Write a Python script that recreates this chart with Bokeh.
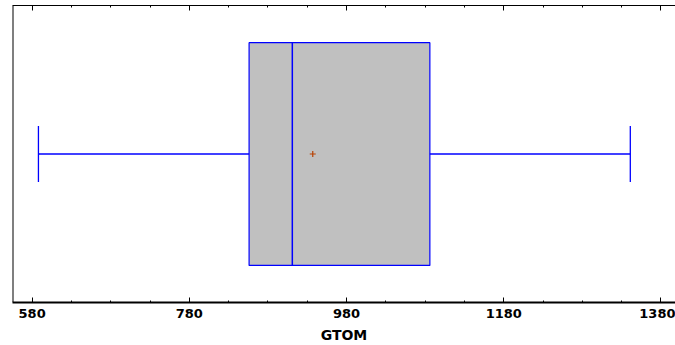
from bokeh.plotting import figure
from bokeh.models import LinearAxis, FixedTicker, Span, Range1d, CustomJSTickFormatter
from bokeh.embed import file_html
from bokeh.resources import INLINE

# Five-number summary and mean of GTOM
whisker_low = [588]
q1 = [856]
median = [911]
q3 = [1086]
whisker_high = [1341]
mean = [937]

# Axis ticks
major_ticks = [580, 780, 980, 1180, 1380]
minor_ticks = list(range(580, 1400, 50))

x_start, x_end = 555, 1398.5

p = figure(width=675, height=345, x_range=Range1d(x_start, x_end), y_range=Range1d(0, 1),
           output_backend="svg", toolbar_location=None,
           min_border_left=12, min_border_right=0, min_border_top=5, min_border_bottom=0,
           x_axis_location="below", y_axis_location=None)
p.outline_line_color = None
p.background_fill_color = "white"
p.border_fill_color = "white"
p.xgrid.visible = False
p.ygrid.visible = False

ticker = FixedTicker(ticks=major_ticks, minor_ticks=minor_ticks)

# bottom axis
xa = p.xaxis[0]
xa.ticker = ticker
xa.axis_label = "GTOM"
xa.axis_line_color = "black"
xa.axis_line_width = 2
xa.major_tick_in = 5
xa.major_tick_out = 0
xa.minor_tick_in = 2
xa.minor_tick_out = 0
xa.major_tick_line_color = "black"
xa.minor_tick_line_color = "black"
xa.major_label_text_font = "DejaVu Sans"
xa.major_label_text_font_style = "bold"
xa.major_label_text_font_size = "13px"
xa.major_label_text_color = "black"
xa.major_label_standoff = 6
xa.axis_label_text_font = "DejaVu Sans"
xa.axis_label_text_font_style = "bold"
xa.axis_label_text_font_size = "14px"
xa.axis_label_text_color = "black"
xa.axis_label_standoff = 6

# top axis: ticks only, no labels
top = LinearAxis(ticker=ticker, formatter=CustomJSTickFormatter(code="return ''"),
                 major_label_standoff=0,
                 axis_line_color="black", axis_line_width=1.2,
                 major_tick_in=5, major_tick_out=0, minor_tick_in=2, minor_tick_out=0,
                 major_tick_line_color="black", minor_tick_line_color="black")
p.add_layout(top, "above")

# left border
p.add_layout(Span(location=x_start, dimension="height", line_color="black", line_width=2))

blue = "#0000ff"
yc = 0.5
box_lo, box_hi = 0.125, 0.875
cap = 0.094

# box
p.quad(left=q1, right=q3, bottom=box_lo, top=box_hi,
       fill_color="#c0c0c0", line_color=blue, line_width=1.2)
# median
p.segment(x0=median, y0=box_lo, x1=median, y1=box_hi, line_color=blue, line_width=1.5)
# whiskers
p.segment(x0=whisker_low, y0=yc, x1=q1, y1=yc, line_color=blue, line_width=1.5)
p.segment(x0=q3, y0=yc, x1=whisker_high, y1=yc, line_color=blue, line_width=1.5)
# caps
p.segment(x0=whisker_low, y0=yc - cap, x1=whisker_low, y1=yc + cap, line_color=blue, line_width=1.3)
p.segment(x0=whisker_high, y0=yc - cap, x1=whisker_high, y1=yc + cap, line_color=blue, line_width=1.3)
# mean
p.scatter(x=mean, y=[yc], marker="cross", size=6, line_color="#b84000", line_width=1.2)

open("out.html", "w").write(file_html(p, INLINE))
